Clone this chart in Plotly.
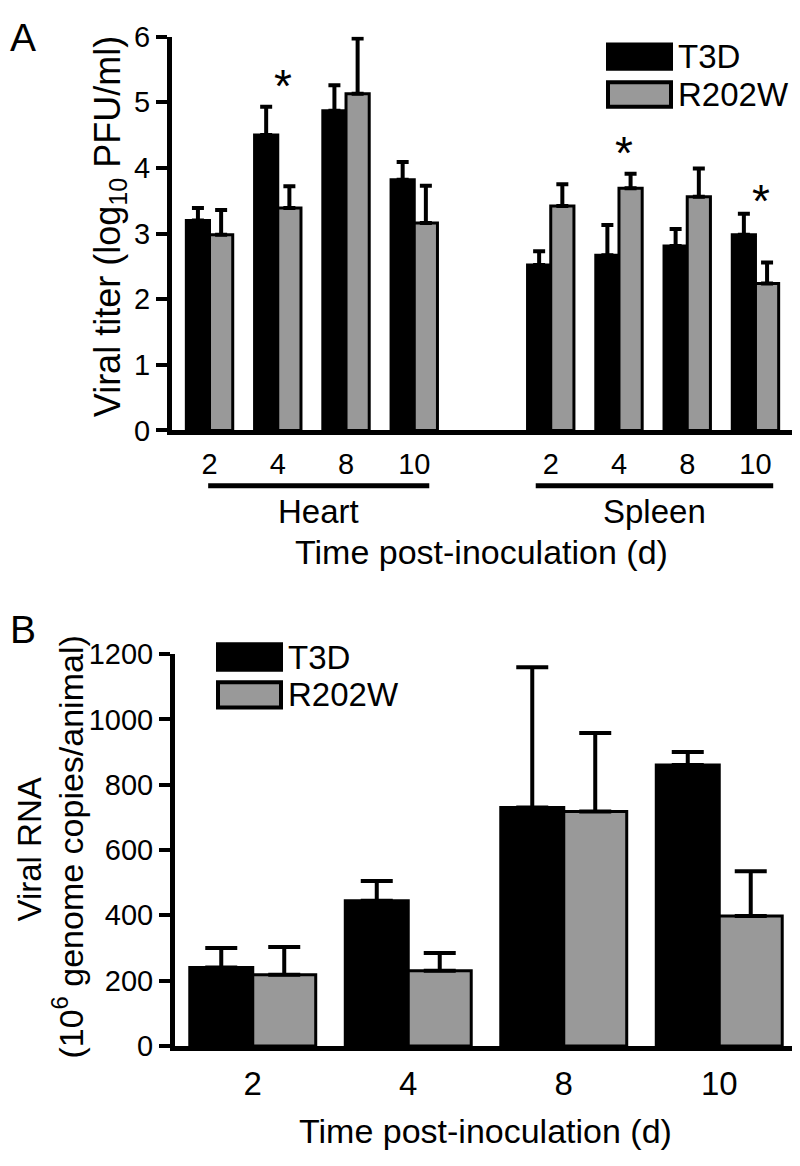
import plotly.graph_objects as go

# page body keeps its default 8px margin, so the figure is drawn 8px in
OFF = 8
W, H = 800 - OFF, 1166 - OFF
FONT = "Liberation Sans, Arial, sans-serif"
GREY = "#999999"

# Panel A: viral titer (log10 PFU/ml) in heart and spleen
days = ["2", "4", "8", "10"]
organs = ["Heart", "Spleen"]
titer_t3d = [3.20, 4.50, 4.87, 3.82, 2.52, 2.67, 2.81, 2.98]
titer_t3d_err = [0.19, 0.43, 0.39, 0.27, 0.21, 0.46, 0.26, 0.32]
titer_r202w = [2.98, 3.39, 5.13, 3.16, 3.42, 3.69, 3.56, 2.24]
titer_r202w_err = [0.38, 0.33, 0.84, 0.57, 0.33, 0.22, 0.43, 0.32]
star_idx = [1, 5, 7]
star_y = [5.42, 4.39, 3.67]

# Panel B: viral RNA (10^6 genome copies/animal)
rna_days = ["2", "4", "8", "10"]
rna_t3d = [240, 445, 730, 860]
rna_t3d_err = [60, 60, 430, 40]
rna_r202w = [218, 230, 718, 398]
rna_r202w_err = [85, 55, 240, 137]

series = ["T3D", "R202W"]


def py(p):
    return 1 - (p - OFF) / H


def px(p):
    return (p - OFF) / W


# heart bars at 0..3, one empty slot, spleen bars at 5..8
xa = [i + i // 4 for i in range(len(titer_t3d))]
xb = list(range(len(rna_days)))

fig = go.Figure()


def add_bars(x, y, err, color, axes, width, offset, cap):
    fig.add_trace(go.Bar(
        x=x, y=y, width=width, offset=offset,
        xaxis=axes[0], yaxis=axes[1],
        marker=dict(color=color, line=dict(color="black", width=3)),
        error_y=dict(type="data", array=err, arrayminus=[0] * len(err),
                     symmetric=False, color="black", thickness=4, width=cap),
        showlegend=False,
    ))


add_bars(xa, titer_t3d, titer_t3d_err, "black", ("x", "y"), 0.34, -0.34, 6)
add_bars(xa, titer_r202w, titer_r202w_err, GREY, ("x", "y"), 0.34, 0.0, 6)
add_bars(xb, rna_t3d, rna_t3d_err, "black", ("x2", "y2"), 0.405, -0.405, 16)
add_bars(xb, rna_r202w, rna_r202w_err, GREY, ("x2", "y2"), 0.405, 0.0, 16)

axis_common = dict(showline=True, linewidth=5, linecolor="black", showgrid=False,
                   zeroline=False, color="black", fixedrange=True)

annotations = []
shapes = []


def text(x, y, s, size, xanchor="center", angle=0, xref="paper", yref="paper"):
    annotations.append(dict(x=x, y=y, xref=xref, yref=yref, text=s, showarrow=False,
                            xanchor=xanchor, yanchor="middle", textangle=angle,
                            font=dict(size=size, color="black", family=FONT)))


# organ underlines + labels
groups = [xa[:4], xa[4:]]
pads = [(0.02, 0.22), (0.22, 0.26)]
for name, g, (pl, pr) in zip(organs, groups, pads):
    x0, x1 = g[0] - pl, g[-1] + pr
    shapes.append(dict(type="line", xref="x", yref="paper", x0=x0, x1=x1,
                       y0=py(483), y1=py(483), line=dict(color="black", width=5)))
    text((x0 + x1) / 2, py(509), name, 33, xref="x")

# significance stars
for i, yv in zip(star_idx, star_y):
    annotations.append(dict(x=xa[i] + 0.08, y=yv, xref="x", yref="y", text="*",
                            showarrow=False, yshift=-11,
                            font=dict(size=46, color="black", family=FONT)))


# legends drawn as big boxes like the original
def legend(x0, ys):
    for (y0, y1), name, color in zip(ys, series, ["black", GREY]):
        shapes.append(dict(type="rect", xref="paper", yref="paper",
                           x0=px(x0), x1=px(x0 + 63), y0=py(y1), y1=py(y0),
                           fillcolor=color, line=dict(color="black", width=4)))
        text(px(x0 + 68), py((y0 + y1) / 2), name, 33, xanchor="left")


legend(608, [(29, 54), (68, 93)])
legend(218, [(646, 672), (685, 711)])

# axis titles and panel letters
text(px(481), py(551), "Time post-inoculation (d)", 34)
text(px(486), py(1146), "Time post-inoculation (d)", 34)
text(px(110), py(217), "Viral titer (log<sub>10</sub> PFU/ml)", 36, angle=-90)
text(px(30), py(857), "Viral RNA", 33, angle=-90)
text(px(68), py(855), "(10<sup>6</sup> genome copies/animal)", 34, angle=-90)
text(0, py(22), "A", 39, xanchor="left")
text(0, py(631), "B", 39, xanchor="left")

fig.update_layout(
    width=W, height=H,
    margin=dict(l=0, r=0, t=0, b=0),
    paper_bgcolor="white", plot_bgcolor="white",
    font=dict(family=FONT, color="black"),
    showlegend=False,
    xaxis=dict(**axis_common, domain=[px(172), px(793)], range=[-0.55, 8.55],
               tickvals=xa, ticktext=days * 2, ticks="",
               tickfont=dict(size=29), ticklabelstandoff=4, anchor="y"),
    yaxis=dict(**axis_common, domain=[py(426), py(21)], range=[0, 6], dtick=1,
               ticks="outside", ticklen=11, tickwidth=4, tickcolor="black",
               tickfont=dict(size=29), anchor="x"),
    xaxis2=dict(**axis_common, domain=[px(175), px(797)], range=[-0.5, 3.5],
                tickvals=xb, ticktext=rna_days, ticks="",
                tickfont=dict(size=33), ticklabelstandoff=4, anchor="y2"),
    yaxis2=dict(**axis_common, domain=[py(1059), py(656)], range=[0, 1200], dtick=200,
                ticks="outside", ticklen=11, tickwidth=4, tickcolor="black",
                tickfont=dict(size=29), anchor="x2"),
    annotations=annotations,
    shapes=shapes,
)

fig.write_html("out.html")
